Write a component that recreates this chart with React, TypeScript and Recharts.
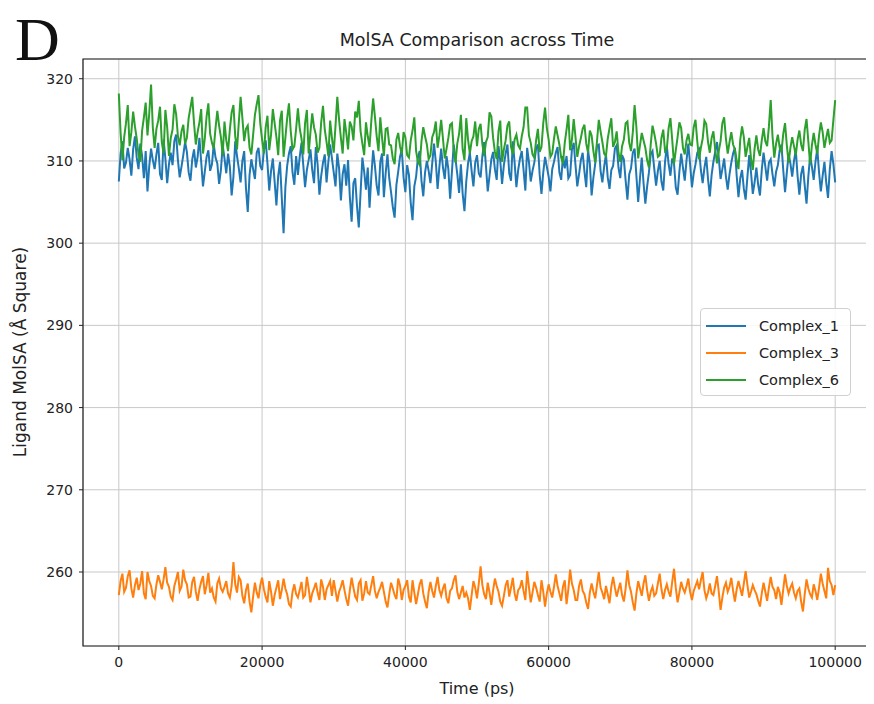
import { LineChart, Line, XAxis, YAxis, CartesianGrid, ReferenceArea } from "recharts";

// sampling step of the trajectory, ps (one row below = 20 frames = 5000 ps)
const timeStepPs = 250;

const complex1 = [
  307.5, 310.9, 312.4, 309.1, 309.8, 311.6, 310.2, 308.2, 311.4, 313.0, 310.4, 309.0, 312.1, 310.6, 307.9, 311.2, 306.3, 309.4, 311.5, 310.1,
  309.0, 310.8, 312.2, 308.4, 307.7, 312.6, 310.3, 307.3, 309.6, 311.0, 309.5, 312.4, 313.2, 310.1, 308.0, 309.3, 310.7, 312.3, 311.1, 308.6,
  307.6, 310.2, 311.4, 309.2, 310.5, 312.8, 309.9, 306.9, 308.7, 310.5, 311.3, 308.8, 309.6, 312.0, 310.4, 309.7, 307.2, 308.9, 311.9, 310.3,
  308.5, 310.9, 309.3, 305.8, 308.1, 312.4, 310.6, 309.1, 307.4, 310.0, 311.2, 306.7, 303.8, 308.3, 310.2, 309.0, 307.8, 311.0, 311.6, 309.4,
  308.9, 311.3, 312.5, 309.7, 306.4, 308.8, 310.3, 307.5, 304.6, 308.2, 309.9, 305.5, 301.2, 306.8, 309.4, 310.9, 311.8, 308.6, 307.1, 310.6,
  308.3, 310.5, 312.2, 309.5, 306.8, 308.9, 310.1, 311.4, 308.9, 307.3, 311.7, 309.6, 305.9, 308.2, 309.8, 310.8, 307.4, 309.9, 312.0, 310.3,
  308.6, 306.9, 310.9, 309.1, 305.2, 308.4, 309.6, 307.0, 310.1, 305.6, 302.6, 307.3, 307.9, 304.5, 301.9, 306.2, 310.4, 308.7, 306.5, 309.2,
  304.3, 308.1, 311.3, 309.4, 307.0, 305.8, 309.9, 310.9, 305.6, 308.5, 310.8, 307.9, 306.2, 304.4, 303.1, 307.1, 308.7, 310.5, 311.4, 308.0,
  306.2, 309.5, 308.3, 304.9, 302.8, 306.9, 308.1, 310.4, 311.2, 307.6, 305.7, 308.6, 310.0, 308.8, 307.3, 309.7, 312.1, 309.9, 306.6, 309.3,
  311.5, 309.2, 307.8, 310.6, 309.0, 305.4, 308.7, 312.0, 310.2, 308.4, 306.1, 309.6, 306.0, 303.9, 307.5, 309.7, 311.0, 308.8, 306.9, 309.8,
  310.7, 308.5, 308.0, 310.6, 312.3, 309.4, 306.3, 308.2, 310.2, 311.1, 309.0, 307.7, 311.8, 310.0, 307.2, 309.5, 310.9, 312.0, 308.5, 307.6,
  312.4, 309.8, 306.8, 308.9, 310.3, 311.2, 308.9, 306.4, 311.6, 309.9, 307.5, 308.8, 309.8, 311.5, 312.0, 308.3, 306.0, 308.6, 310.5, 309.3,
  308.1, 306.3, 309.0, 309.9, 311.0, 311.7, 308.6, 307.7, 310.6, 309.1, 310.6, 307.9, 308.3, 311.4, 312.2, 309.5, 306.9, 308.4, 310.1, 311.0,
  308.7, 306.8, 311.3, 309.7, 305.8, 308.0, 309.6, 311.9, 312.0, 308.8, 307.4, 309.3, 310.8, 308.0, 306.6, 308.9, 309.4, 311.5, 311.9, 309.2,
  307.9, 310.7, 310.2, 307.6, 305.3, 308.4, 309.1, 311.0, 311.5, 308.2, 305.0, 307.9, 310.4, 307.3, 304.8, 306.9, 308.6, 310.8, 311.2, 309.0,
  307.0, 308.8, 310.0, 307.5, 306.4, 309.9, 311.8, 309.6, 308.2, 310.3, 309.7, 306.8, 305.9, 308.7, 310.9, 309.2, 307.6, 310.1, 312.1, 309.6,
  306.8, 308.5, 309.6, 311.0, 311.4, 308.9, 307.3, 309.2, 310.5, 307.8, 305.7, 308.3, 309.9, 311.1, 312.3, 310.4, 307.8, 309.0, 310.3, 308.1,
  306.5, 308.4, 309.8, 310.9, 311.6, 308.2, 305.6, 307.9, 308.9, 306.6, 305.3, 308.1, 310.7, 308.6, 306.0, 307.4, 309.2, 307.1, 305.8, 308.9,
  311.0, 309.3, 307.6, 309.8, 310.2, 308.4, 306.9, 308.7, 309.5, 311.3, 312.0, 308.9, 306.2, 308.6, 310.8, 309.7, 308.1, 310.0, 311.3, 308.2,
  305.9, 308.4, 309.4, 307.0, 304.8, 308.1, 310.6, 309.3, 307.7, 309.9, 311.5, 308.6, 306.3, 308.2, 309.9, 307.4, 305.5, 309.0, 311.2, 309.6,
  307.4,
];

const complex3 = [
  257.2, 258.9, 259.8, 257.6, 258.1, 259.5, 260.2, 258.0, 256.9, 258.4, 259.3, 257.8, 258.6, 260.1, 257.4, 256.7, 260.0, 258.9, 258.3, 257.1,
  256.8, 258.5, 259.6, 258.8, 257.9, 259.1, 260.6, 258.7, 258.2, 257.0, 256.6, 258.3, 259.1, 260.0, 257.7, 258.2, 260.3, 259.0, 258.5, 256.9,
  257.0, 258.8, 259.4, 257.6, 256.5, 257.9, 258.8, 259.5, 257.3, 258.4, 259.9, 257.5, 258.0, 256.9, 256.4, 258.6, 259.2, 258.0, 257.6, 258.2,
  258.9, 257.4, 256.9, 258.3, 261.2, 258.5, 257.5, 259.4, 259.0, 257.1, 256.2, 257.8, 258.6, 256.4, 255.1, 257.0, 258.7, 257.5, 256.8, 258.4,
  259.3, 257.9, 257.0, 256.3, 258.9, 257.6, 255.9, 257.2, 258.1, 259.0, 256.7, 257.8, 259.2, 258.0, 257.3, 256.1, 255.8, 257.6, 258.5, 257.3,
  256.9, 257.8, 258.8, 256.9, 257.2, 259.4, 258.0, 256.3, 257.4, 258.0, 258.7, 257.5, 256.6, 259.1, 258.2, 256.6, 257.9, 258.4, 258.9, 257.1,
  259.0, 257.7, 256.4, 257.6, 258.2, 259.0, 257.8, 256.7, 255.9, 257.8, 259.3, 258.1, 257.0, 256.6, 258.6, 259.0, 256.5, 257.4, 258.9, 257.5,
  257.3, 258.4, 259.5, 257.7, 256.8, 257.6, 258.1, 258.8, 257.6, 256.4, 255.7, 257.3, 258.7, 258.0, 257.2, 256.7, 259.2, 258.4, 256.6, 257.8,
  258.3, 259.0, 257.0, 256.3, 259.0, 257.5, 256.1, 257.3, 258.5, 259.1, 257.4, 256.4, 255.6, 257.6, 258.8, 257.7, 256.9, 258.3, 259.4, 257.8,
  257.1, 258.0, 258.6, 256.8, 256.2, 257.7, 258.0, 259.0, 259.6, 257.6, 256.7, 257.5, 258.3, 256.9, 257.5, 256.8, 255.4, 257.2, 258.9, 258.1,
  256.8, 258.6, 260.7, 258.4, 257.3, 256.7, 258.7, 257.5, 256.0, 257.8, 259.2, 258.3, 257.6, 256.4, 255.9, 257.1, 258.4, 259.0, 257.0, 258.1,
  259.3, 257.4, 256.5, 257.8, 258.1, 259.0, 257.7, 256.6, 260.1, 258.2, 256.3, 257.5, 258.8, 258.1, 257.2, 256.4, 259.0, 257.6, 255.8, 257.4,
  258.5, 257.6, 256.9, 258.2, 259.7, 258.3, 257.4, 256.5, 258.2, 259.0, 256.1, 257.9, 260.3, 258.6, 257.8, 256.6, 256.6, 258.3, 259.1, 257.7,
  257.3, 256.3, 255.5, 257.5, 258.6, 257.6, 256.8, 258.4, 260.0, 258.1, 257.5, 256.7, 258.3, 257.3, 256.2, 258.2, 259.4, 258.1, 257.0, 257.9,
  258.7, 257.2, 256.4, 258.0, 260.2, 258.4, 257.6, 256.3, 255.3, 257.4, 258.9, 258.0, 257.1, 258.6, 259.6, 257.8, 256.5, 257.6, 258.2, 257.1,
  257.4, 258.6, 259.8, 257.9, 256.7, 257.8, 258.5, 257.6, 257.0, 258.8, 260.4, 258.1, 256.3, 257.5, 258.8, 258.0, 257.5, 258.3, 259.2, 257.6,
  256.6, 257.7, 258.3, 258.9, 257.9, 259.0, 260.0, 257.8, 256.8, 257.5, 258.6, 257.4, 257.2, 258.3, 259.5, 257.6, 255.4, 256.9, 258.1, 258.7,
  257.6, 258.2, 259.3, 257.7, 256.4, 257.9, 258.9, 258.0, 257.1, 258.6, 260.1, 258.4, 256.9, 257.6, 258.4, 257.8, 257.3, 256.5, 255.8, 257.4,
  258.7, 257.6, 256.5, 258.1, 259.4, 258.2, 257.8, 256.7, 258.2, 257.5, 256.0, 257.9, 259.7, 258.3, 257.4, 258.1, 258.6, 257.5, 256.8, 257.7,
  258.0, 256.4, 255.2, 257.3, 259.1, 258.0, 257.3, 256.9, 258.5, 257.7, 256.6, 258.1, 259.8, 258.6, 257.7, 256.8, 260.5, 258.9, 258.4, 257.2,
  258.4,
];

const complex6 = [
  318.2, 313.4, 310.1, 312.9, 314.6, 316.8, 311.8, 313.5, 316.0, 314.2, 312.7, 310.8, 309.9, 313.7, 315.3, 317.1, 313.1, 315.8, 319.3, 314.0,
  311.6, 313.9, 314.9, 316.6, 312.3, 310.9, 316.2, 314.1, 310.6, 312.8, 313.8, 316.9, 315.7, 313.0, 311.9, 313.6, 314.4, 312.1, 312.8, 315.2,
  316.5, 317.8, 314.6, 312.0, 313.5, 314.7, 316.3, 310.9, 312.7, 315.4, 317.0, 313.3, 312.2, 311.5, 314.0, 316.1, 314.3, 312.9, 310.7, 314.8,
  312.5, 311.2, 313.8, 315.9, 316.8, 313.0, 311.4, 314.7, 317.8, 315.2, 312.4, 313.9, 314.3, 311.6, 310.8, 313.2, 315.6, 316.9, 318.0, 314.5,
  312.6, 310.9, 314.1, 315.5, 311.3, 313.2, 316.3, 314.6, 312.9, 310.7, 314.9, 316.1, 310.5, 312.8, 315.2, 317.0, 313.6, 311.4, 311.8, 313.9,
  316.4, 314.0, 312.7, 310.8, 314.6, 316.2, 310.9, 313.5, 315.8, 314.1, 313.2, 311.0, 311.6, 314.7, 316.7, 313.8, 312.3, 310.6, 314.9, 312.8,
  311.0, 314.3, 317.8, 315.0, 312.8, 310.9, 315.1, 313.4, 311.4, 314.8, 314.2, 312.5, 316.0, 315.3, 317.3, 313.6, 312.1, 310.7, 314.7, 313.0,
  311.7, 314.9, 317.6, 315.4, 313.0, 311.2, 315.3, 312.8, 310.6, 313.9, 314.0, 312.0, 311.9, 310.3, 309.6, 312.6, 313.4, 311.8, 310.8, 313.5,
  312.9, 310.7, 310.4, 312.5, 313.7, 315.3, 311.2, 309.9, 309.5, 312.4, 314.1, 313.0, 312.0, 310.2, 310.7, 312.9, 313.5, 314.8, 311.6, 313.1,
  315.0, 312.7, 310.3, 311.5, 312.8, 314.4, 314.6, 311.4, 309.8, 312.1, 313.3, 315.6, 311.4, 310.1, 315.2, 312.6, 310.9, 312.4, 313.0, 314.8,
  311.8, 313.9, 314.5, 312.0, 310.6, 312.3, 312.9, 315.9, 315.4, 312.8, 311.1, 310.2, 313.6, 314.9, 309.9, 311.4, 312.5, 314.3, 314.8, 311.7,
  310.8, 312.6, 313.2, 311.9, 311.5, 313.0, 314.1, 316.5, 316.5, 313.1, 312.2, 310.8, 310.4, 312.5, 313.9, 311.1, 311.7, 314.6, 316.5, 314.0,
  312.6, 310.5, 310.9, 312.7, 314.2, 313.1, 312.0, 310.4, 309.7, 312.2, 313.8, 315.6, 311.3, 312.6, 315.1, 312.9, 310.5, 311.8, 312.8, 313.9,
  314.4, 312.1, 311.0, 313.7, 313.1, 311.2, 309.8, 312.4, 315.0, 313.6, 312.3, 310.9, 310.6, 312.7, 314.0, 315.2, 311.7, 312.3, 313.6, 311.0,
  309.9, 311.8, 312.6, 314.6, 314.8, 312.2, 311.2, 313.5, 316.8, 314.1, 310.3, 311.9, 313.4, 312.5, 311.6, 310.1, 309.2, 312.0, 314.3, 313.3,
  312.1, 310.5, 310.7, 312.8, 313.8, 311.2, 311.5, 314.0, 315.2, 312.6, 309.6, 311.3, 312.9, 314.7, 314.0, 311.6, 310.8, 312.5, 313.3, 312.0,
  311.9, 314.1, 315.0, 312.4, 310.2, 311.6, 312.7, 314.9, 314.5, 312.3, 311.0, 312.8, 313.6, 311.4, 309.7, 311.2, 312.4, 314.6, 315.3, 312.7,
  310.9, 312.3, 313.5, 312.0, 311.4, 310.1, 309.0, 312.6, 314.2, 312.9, 310.5, 311.7, 312.8, 310.3, 308.9, 311.5, 313.1, 311.4, 310.6, 312.5,
  314.0, 312.4, 311.8, 314.2, 317.4, 313.0, 310.4, 312.1, 313.2, 311.6, 311.1, 313.3, 314.6, 311.9, 309.8, 311.6, 312.9, 311.8, 310.7, 312.6,
  313.7, 312.0, 311.2, 313.8, 315.1, 312.4, 309.6, 311.9, 313.4, 312.0, 310.9, 313.1, 314.7, 313.5, 311.6, 312.8, 313.9, 312.2, 312.5, 315.0,
  317.4,
];

const xTicks = [0, 20000, 40000, 60000, 80000, 100000];
const yTicks = [260, 270, 280, 290, 300, 310, 320];

const series = [
  { key: "complex1", name: "Complex_1", color: "#1f77b4" },
  { key: "complex3", name: "Complex_3", color: "#ff7f0e" },
  { key: "complex6", name: "Complex_6", color: "#2ca02c" },
];

const frames = Math.min(complex1.length, complex3.length, complex6.length);
const data = complex1.slice(0, frames).map((v, i) => ({
  time: i * timeStepPs,
  complex1: v,
  complex3: complex3[i],
  complex6: complex6[i],
}));

const font = "'DejaVu Sans', sans-serif";
const tickStyle = { fontSize: 14, fill: "#222", fontFamily: font };

export default function App() {
  return (
    <div style={{ position: "relative", width: 866, height: 696, background: "#fff" }}>
      <div
        style={{
          position: "absolute",
          left: 7,
          top: -5,
          fontFamily: "'Liberation Serif', serif",
          fontSize: 62,
          color: "#111",
          lineHeight: "72px",
        }}
      >
        D
      </div>
      <div
        style={{
          position: "absolute",
          left: 0,
          width: 938,
          top: 22,
          textAlign: "center",
          fontFamily: font,
          fontSize: 17.5,
          color: "#222",
        }}
      >
        MolSA Comparison across Time
      </div>
      <div
        style={{
          position: "absolute",
          left: 12,
          top: 344,
          transform: "translate(-50%, -50%) rotate(-90deg)",
          whiteSpace: "nowrap",
          fontFamily: font,
          fontSize: 17,
          color: "#222",
        }}
      >
        Ligand MolSA (Å Square)
      </div>
      <div
        style={{
          position: "absolute",
          left: 0,
          width: 938,
          top: 671,
          textAlign: "center",
          fontFamily: font,
          fontSize: 16,
          color: "#222",
        }}
      >
        Time (ps)
      </div>

      <LineChart width={866} height={696} data={data} margin={{ top: 51, right: 3, left: 0, bottom: 0 }}>
        <CartesianGrid stroke="#c8c8c8" strokeWidth={1} />
        <XAxis
          dataKey="time"
          type="number"
          domain={[-5000, 105000]}
          ticks={xTicks}
          allowDataOverflow
          height={58}
          tickSize={4}
          tickMargin={7}
          tick={tickStyle}
          axisLine={false}
          tickLine={{ stroke: "#222" }}
        />
        <YAxis
          type="number"
          domain={[251, 322.4]}
          ticks={yTicks}
          allowDataOverflow
          width={75}
          tickSize={4}
          tickMargin={6}
          tick={tickStyle}
          axisLine={false}
          tickLine={{ stroke: "#222" }}
        />
        {series.map((s) => (
          <Line
            key={s.key}
            type="linear"
            dataKey={s.key}
            name={s.name}
            stroke={s.color}
            strokeWidth={2}
            strokeLinejoin="miter"
            dot={false}
            isAnimationActive={false}
          />
        ))}
        <ReferenceArea x1={-5000} x2={105000} y1={251} y2={322.4} fill="none" stroke="#222" strokeWidth={1.2} />
      </LineChart>

      <div
        style={{
          position: "absolute",
          left: 692,
          top: 300,
          width: 151,
          height: 88,
          boxSizing: "border-box",
          border: "1px solid #d0d0d0",
          borderRadius: 4,
          background: "rgba(255,255,255,0.85)",
          fontFamily: font,
          fontSize: 14.5,
          color: "#222",
        }}
      >
        {series.map((s, i) => (
          <div key={s.key} style={{ position: "absolute", left: 5, top: 8 + i * 27, height: 18, display: "flex", alignItems: "center" }}>
            <span style={{ display: "inline-block", width: 40, height: 2.5, background: s.color, marginRight: 13 }} />
            <span>{s.name}</span>
          </div>
        ))}
      </div>
    </div>
  );
}
